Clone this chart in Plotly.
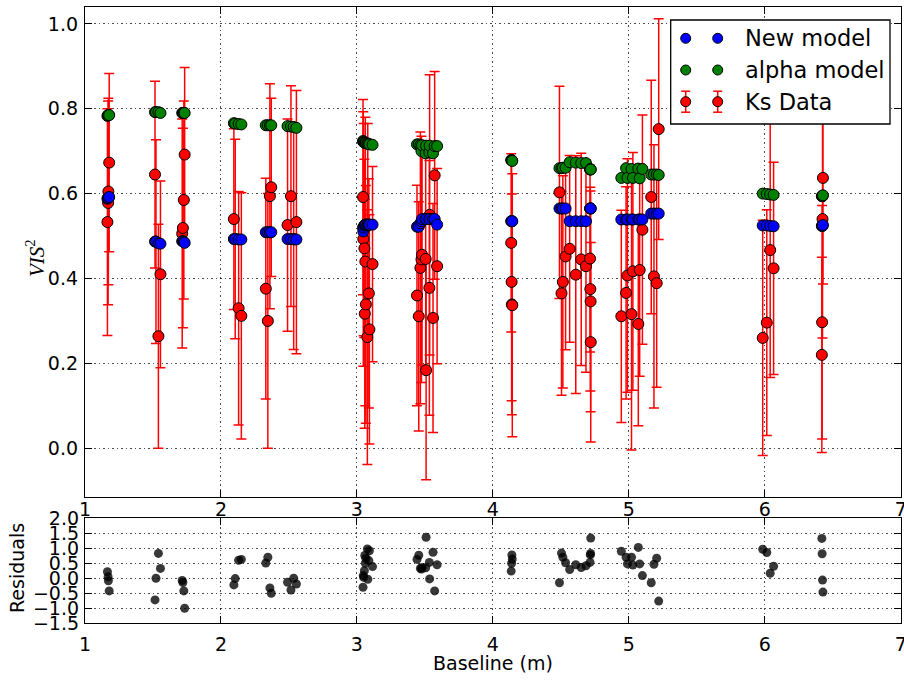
import plotly.graph_objects as go

# ---------------- data ----------------
baseline = [
    1.165, 1.170, 1.172, 1.178,
    1.515, 1.522, 1.540, 1.555,
    1.715, 1.720, 1.727, 1.733,
    2.095, 2.105, 2.130, 2.150,
    2.330, 2.345, 2.360, 2.370,
    2.490, 2.515, 2.535, 2.555,
    3.045, 3.047, 3.050, 3.055, 3.058, 3.062, 3.066, 3.077, 3.080, 3.088, 3.092, 3.115,
    3.442, 3.455, 3.467, 3.475, 3.479, 3.506, 3.509, 3.533, 3.535, 3.560, 3.572, 3.590,
    4.135, 4.138, 4.140, 4.143,
    4.490, 4.505, 4.515, 4.535, 4.565, 4.610, 4.650, 4.685, 4.715, 4.717, 4.719, 4.720,
    4.945, 4.980, 4.990, 5.020, 5.030, 5.070, 5.080, 5.100, 5.165, 5.185, 5.205, 5.220,
    5.985, 6.015, 6.040, 6.065,
    6.420, 6.422, 6.425, 6.428,
]
vis2 = [
    0.533, 0.578, 0.605, 0.673,
    0.645, 0.487, 0.264, 0.410,
    0.506, 0.519, 0.585, 0.692,
    0.540, 0.493, 0.330, 0.312,
    0.376, 0.300, 0.594, 0.615,
    0.526, 0.594, 0.493, 0.533,
    0.592, 0.493, 0.515, 0.471, 0.317, 0.440, 0.339, 0.262, 0.525, 0.365, 0.280, 0.434,
    0.360, 0.311, 0.425, 0.445, 0.456, 0.446, 0.184, 0.378, 0.550, 0.307, 0.643, 0.429,
    0.484, 0.392, 0.339, 0.337,
    0.603, 0.365, 0.392, 0.452, 0.470, 0.409, 0.445, 0.429, 0.447, 0.375, 0.346, 0.250,
    0.311, 0.366, 0.407, 0.316, 0.417, 0.293, 0.420, 0.515, 0.592, 0.405, 0.389, 0.752,
    0.260, 0.296, 0.467, 0.424,
    0.220, 0.297, 0.540, 0.637,
]
vis2_err = [
    0.267, 0.240, 0.220, 0.210,
    0.220, 0.240, 0.264, 0.220,
    0.270, 0.235, 0.233, 0.205,
    0.213, 0.235, 0.275, 0.290,
    0.260, 0.300, 0.265, 0.210,
    0.250, 0.260, 0.260, 0.310,
    0.230, 0.300, 0.250, 0.210, 0.270, 0.340, 0.280, 0.300, 0.240, 0.270, 0.270, 0.230,
    0.260, 0.270, 0.320, 0.290, 0.260, 0.270, 0.258, 0.300, 0.330, 0.270, 0.245, 0.230,
    0.210, 0.280, 0.260, 0.310,
    0.250, 0.240, 0.250, 0.220, 0.220, 0.280, 0.250, 0.250, 0.220, 0.240, 0.260, 0.235,
    0.250, 0.250, 0.275, 0.320, 0.280, 0.240, 0.250, 0.270, 0.275, 0.310, 0.245, 0.260,
    0.277, 0.266, 0.300, 0.250,
    0.230, 0.275, 0.280, 0.250,
]
new_model = [
    0.588, 0.590, 0.590, 0.592,
    0.487, 0.487, 0.483, 0.482,
    0.488, 0.488, 0.486, 0.484,
    0.493, 0.493, 0.492, 0.492,
    0.509, 0.509, 0.509, 0.509,
    0.493, 0.493, 0.492, 0.492,
    0.520, 0.511, 0.520, 0.525, 0.526, 0.527, 0.527, 0.527, 0.527, 0.527, 0.527, 0.527,
    0.522, 0.522, 0.530, 0.535, 0.540, 0.540, 0.540, 0.540, 0.540, 0.540, 0.540, 0.527,
    0.535, 0.535, 0.535, 0.535,
    0.565, 0.565, 0.565, 0.565, 0.535, 0.535, 0.535, 0.535, 0.565, 0.565, 0.565, 0.565,
    0.539, 0.539, 0.539, 0.539, 0.539, 0.539, 0.539, 0.539, 0.553, 0.553, 0.553, 0.553,
    0.525, 0.525, 0.524, 0.523,
    0.524, 0.524, 0.524, 0.526,
]
alpha_model = [
    0.783, 0.785, 0.785, 0.785,
    0.792, 0.792, 0.792, 0.790,
    0.790, 0.790, 0.790, 0.790,
    0.766, 0.765, 0.764, 0.763,
    0.761, 0.761, 0.761, 0.761,
    0.759, 0.758, 0.757, 0.755,
    0.724, 0.722, 0.722, 0.720, 0.720, 0.719, 0.719, 0.718, 0.718, 0.717, 0.716, 0.715,
    0.716, 0.716, 0.714, 0.700, 0.714, 0.695, 0.713, 0.697, 0.713, 0.695, 0.712, 0.712,
    0.679, 0.679, 0.678, 0.677,
    0.660, 0.660, 0.661, 0.661, 0.674, 0.673, 0.672, 0.672, 0.657, 0.657, 0.657, 0.657,
    0.637, 0.660, 0.637, 0.658, 0.637, 0.659, 0.636, 0.658, 0.645, 0.645, 0.645, 0.644,
    0.600, 0.599, 0.598, 0.597,
    0.594, 0.594, 0.594, 0.596,
]
residuals = [
    0.22, 0.05, -0.08, -0.42,
    -0.72, 0.00, 0.83, 0.33,
    -0.07, -0.14, -0.42, -1.00,
    -0.22, -0.01, 0.60, 0.63,
    0.51, 0.70, -0.32, -0.50,
    -0.13, -0.39, 0.00, -0.19,
    -0.30, 0.09, 0.03, 0.25, 0.76, 0.50, 0.67, 0.98, -0.03, 0.59, 0.92, 0.39,
    0.63, 0.77, 0.33, 0.31, 0.36, 0.35, 1.37, 0.53, -0.02, 0.87, -0.42, 0.45,
    0.24, 0.50, 0.78, 0.64,
    -0.15, 0.84, 0.70, 0.52, 0.29, 0.45, 0.36, 0.42, 0.53, 0.78, 0.83, 1.34,
    0.90, 0.70, 0.48, 0.70, 0.44, 1.03, 0.48, 0.09, -0.15, 0.47, 0.67, -0.76,
    0.97, 0.86, 0.17, 0.40,
    1.33, 0.82, -0.06, -0.46,
]

x_ticks = [1, 2, 3, 4, 5, 6, 7]
vis_ticks = [0.0, 0.2, 0.4, 0.6, 0.8, 1.0]
res_ticks = [-1.5, -1.0, -0.5, 0.0, 0.5, 1.0, 1.5, 2.0]
legend_labels = ["New model", "alpha model", "Ks Data"]
legend_colors = ["#0000ff", "#008000", "#ff0000"]

# ---------------- layout geometry (pixels) ----------------
W, H = 904, 682
def fx(p):
    return p / W
def fy(p):
    return 1 - p / H

X0, X1 = 85.0, 900.7
YT0, YT1 = 7.3, 497.3
YB0, YB1 = 518.3, 623.3

FONT = "DejaVu Sans"
TICK = dict(family=FONT, size=19, color="black")
MSIZE = 11

fig = go.Figure()

fig.add_trace(go.Scatter(
    x=baseline, y=vis2, mode="markers", name="Ks Data",
    error_y=dict(type="data", array=vis2_err, visible=True, color="#ff0000",
                 thickness=1.5, width=5),
    marker=dict(color="#ff0000", size=MSIZE, line=dict(color="black", width=1)),
    xaxis="x", yaxis="y", showlegend=False))
fig.add_trace(go.Scatter(
    x=baseline, y=new_model, mode="markers", name="New model",
    marker=dict(color="#0000ff", size=MSIZE, line=dict(color="black", width=1)),
    xaxis="x", yaxis="y", showlegend=False))
fig.add_trace(go.Scatter(
    x=baseline, y=alpha_model, mode="markers", name="alpha model",
    marker=dict(color="#008000", size=MSIZE, line=dict(color="black", width=1)),
    xaxis="x", yaxis="y", showlegend=False))
fig.add_trace(go.Scatter(
    x=baseline, y=residuals, mode="markers", name="Residuals",
    marker=dict(color="rgba(0,0,0,0.78)", size=9, line=dict(width=0)),
    xaxis="x2", yaxis="y2", showlegend=False))

axis_common = dict(
    showline=True, linecolor="black", linewidth=1.3, mirror="ticks",
    ticks="inside", ticklen=7, tickwidth=1, tickcolor="black",
    showgrid=True, gridcolor="rgba(0,0,0,0.7)", gridwidth=1, griddash="1.5px,3px",
    zeroline=False, tickfont=TICK, automargin=False, ticklabeloverflow="allow",
)

fig.update_layout(
    template="none",
    width=W, height=H,
    margin=dict(l=0, r=0, t=0, b=0, autoexpand=False),
    paper_bgcolor="white", plot_bgcolor="white",
    showlegend=False,
    xaxis=dict(domain=[fx(X0), fx(X1)], range=[1, 7], anchor="y",
               tickmode="array", tickvals=x_ticks, ticktext=[str(v) for v in x_ticks],
               ticklabelstandoff=-5, **axis_common),
    yaxis=dict(domain=[fy(YT1), fy(YT0)], range=[-0.1155, 1.039], anchor="x",
               tickmode="array", tickvals=vis_ticks, ticktext=[f"{v:.1f}" for v in vis_ticks],
               ticklabelstandoff=2, **axis_common),
    xaxis2=dict(domain=[fx(X0), fx(X1)], range=[1, 7], anchor="y2",
                tickmode="array", tickvals=x_ticks, ticktext=[str(v) for v in x_ticks],
                ticklabelstandoff=4, **axis_common),
    yaxis2=dict(domain=[fy(YB1), fy(YB0)], range=[-1.5, 2.0], anchor="x2",
                tickmode="array", tickvals=res_ticks,
                ticktext=[f"{v:.1f}".replace("-", "\u2212") for v in res_ticks],
                ticklabelstandoff=1, **axis_common),
)

# axis titles
annos = [
    dict(text="Baseline (m)", x=fx((X0 + X1) / 2), y=fy(663), xref="paper", yref="paper",
         xanchor="center", yanchor="middle", showarrow=False,
         font=dict(family=FONT, size=19, color="black")),
    dict(text="Residuals", x=fx(17), y=fy(568), xref="paper", yref="paper",
         xanchor="center", yanchor="middle", showarrow=False, textangle=-90,
         font=dict(family=FONT, size=19, color="black")),
    dict(text="<i>VIS</i><sup>2</sup>", x=fx(35), y=fy(258), xref="paper", yref="paper",
         xanchor="center", yanchor="middle", showarrow=False, textangle=-90,
         font=dict(family="Liberation Serif", size=21, color="black")),
]

# custom legend (matplotlib style, two markers per entry)
shapes = []
LX0, LY0, LX1, LY1 = 670.7, 20.0, 890.0, 124.0
shapes.append(dict(type="rect", xref="paper", yref="paper",
                   x0=fx(LX0), x1=fx(LX1), y0=fy(LY1), y1=fy(LY0),
                   line=dict(color="black", width=1.3), fillcolor="white", layer="above"))
rows = [38.3, 70.0, 101.7]
mxs = [685.7, 717.7]
for label, color, ry in zip(legend_labels, legend_colors, rows):
    for mx in mxs:
        if label == "Ks Data":
            shapes.append(dict(type="line", xref="paper", yref="paper",
                               x0=fx(mx), x1=fx(mx), y0=fy(ry - 10.5), y1=fy(ry + 10.5),
                               line=dict(color="#ff0000", width=1.5), layer="above"))
            for cy in (ry - 10.5, ry + 10.5):
                shapes.append(dict(type="line", xref="paper", yref="paper",
                                   x0=fx(mx - 4.5), x1=fx(mx + 4.5), y0=fy(cy), y1=fy(cy),
                                   line=dict(color="#ff0000", width=1.5), layer="above"))
        shapes.append(dict(type="circle", xref="paper", yref="paper",
                           xsizemode="pixel", ysizemode="pixel",
                           xanchor=fx(mx), yanchor=fy(ry),
                           x0=-5, x1=5, y0=-5, y1=5,
                           fillcolor=color, line=dict(color="black", width=1), layer="above"))
    annos.append(dict(text=label, x=fx(743), y=fy(ry), xref="paper", yref="paper",
                      xanchor="left", yanchor="middle", showarrow=False,
                      font=dict(family=FONT, size=22.5, color="black")))

fig.update_layout(shapes=shapes, annotations=annos)

fig.write_html("out.html")
